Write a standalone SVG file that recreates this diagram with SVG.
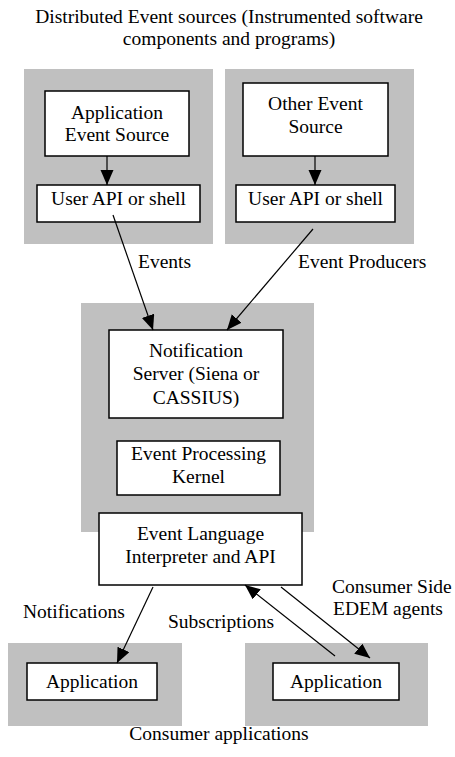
<svg xmlns="http://www.w3.org/2000/svg" width="455" height="757" viewBox="0 0 455 757">
<style>
text{font-family:'Liberation Serif','Times New Roman','DejaVu Serif',serif;font-size:19.5px;fill:#000}
.c{text-anchor:middle}
.g{fill:#c0c0c0;stroke:none}
.b{fill:#fff;stroke:#000;stroke-width:1.5}
.e{stroke:#000;stroke-width:1.2;fill:none;marker-end:url(#ah)}
</style>
<defs>
<marker id="ah" markerUnits="userSpaceOnUse" markerWidth="16" markerHeight="14" refX="15" refY="6.5" orient="auto">
<path d="M0,0 L15,6.5 L0,13 z" fill="#000"/>
</marker>
</defs>
<rect width="455" height="757" fill="#fff"/>
<g font-family="Liberation Serif, Times New Roman, serif">
<g id="title">
<text class="c" x="229" y="23">Distributed Event sources (Instrumented software</text>
<text class="c" x="229" y="45">components and programs)</text>
</g>
<g id="group-left-source"><rect class="g" x="24" y="69" width="189" height="175"/></g>
<g id="group-right-source"><rect class="g" x="225" y="69" width="189" height="175"/></g>
<g id="group-server"><rect class="g" x="81" y="303" width="233" height="229"/></g>
<g id="group-consumer-left"><rect class="g" x="8" y="643" width="174" height="83"/></g>
<g id="group-consumer-right"><rect class="g" x="245" y="643" width="183" height="83"/></g>
<g id="app-event-source">
<rect class="b" x="45" y="91" width="144" height="65"/>
<text class="c" x="117" y="119">Application</text>
<text class="c" x="117" y="141">Event Source</text>
</g>
<g id="other-event-source">
<rect class="b" x="243" y="83" width="145" height="73"/>
<text class="c" x="315.5" y="110">Other Event</text>
<text class="c" x="315.5" y="133">Source</text>
</g>
<g id="user-api-left">
<rect class="b" x="37" y="185" width="163" height="37"/>
<text class="c" x="118.5" y="205">User API or shell</text>
</g>
<g id="user-api-right">
<rect class="b" x="236" y="185" width="159" height="37"/>
<text class="c" x="315.5" y="205">User API or shell</text>
</g>
<g id="notification-server">
<rect class="b" x="109" y="330" width="174" height="88"/>
<text class="c" x="196" y="357">Notification</text>
<text class="c" x="196" y="380">Server (Siena or</text>
<text class="c" x="196" y="404">CASSIUS)</text>
</g>
<g id="event-processing-kernel">
<rect class="b" x="117" y="441" width="163" height="54"/>
<text class="c" x="198.5" y="460">Event Processing</text>
<text class="c" x="198.5" y="483">Kernel</text>
</g>
<g id="event-language">
<rect class="b" x="99" y="513" width="203" height="72"/>
<text class="c" x="200.5" y="540">Event Language</text>
<text class="c" x="200.5" y="563">Interpreter and API</text>
</g>
<g id="app-left">
<rect class="b" x="27" y="663" width="130" height="37"/>
<text class="c" x="92" y="688">Application</text>
</g>
<g id="app-right">
<rect class="b" x="273" y="663" width="126" height="37"/>
<text class="c" x="336" y="688">Application</text>
</g>
<g id="connectors">
<line class="e" x1="107" y1="156" x2="107" y2="185"/>
<line class="e" x1="315" y1="156" x2="315" y2="185"/>
<line class="e" x1="113" y1="215" x2="153" y2="330"/>
<line class="e" x1="313" y1="229" x2="227" y2="330"/>
<line class="e" x1="153" y1="587" x2="117" y2="663"/>
<line class="e" x1="335" y1="656" x2="245" y2="585"/>
<line class="e" x1="281" y1="587" x2="370" y2="658"/>
</g>
<g id="labels">
<text x="138" y="268">Events</text>
<text x="298" y="268">Event Producers</text>
<text x="23" y="618">Notifications</text>
<text x="168" y="628">Subscriptions</text>
<text x="332" y="593">Consumer Side</text>
<text x="333" y="615">EDEM agents</text>
<text class="c" x="219" y="740">Consumer applications</text>
</g>
</g>
</svg>
